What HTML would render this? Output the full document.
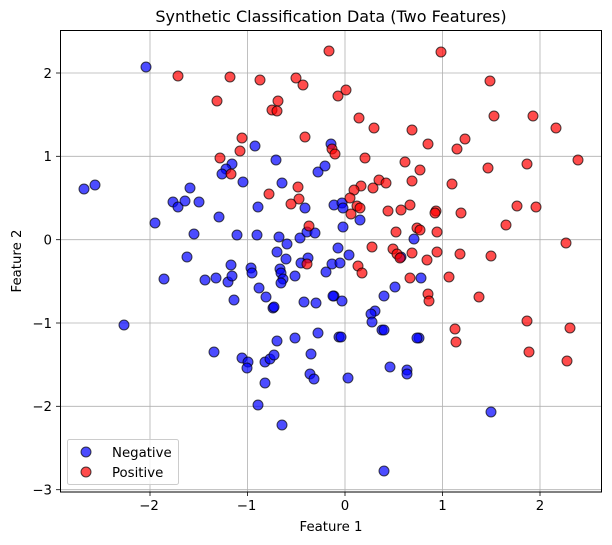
<!DOCTYPE html>
<html><head><meta charset="utf-8"><style>body{margin:0;background:#fff}svg{display:block;font-family:"DejaVu Sans","Liberation Sans",sans-serif}</style></head><body>
<svg width="612" height="545" xmlns="http://www.w3.org/2000/svg">
<rect width="612" height="545" fill="#fff"/>
<g stroke="#b0b0b0" stroke-width="0.8">
<line x1="150" y1="30" x2="150" y2="492"/><line x1="247.5" y1="30" x2="247.5" y2="492"/><line x1="345" y1="30" x2="345" y2="492"/><line x1="442.5" y1="30" x2="442.5" y2="492"/><line x1="540" y1="30" x2="540" y2="492"/>
<line x1="60" y1="73" x2="602" y2="73"/><line x1="60" y1="156.3" x2="602" y2="156.3"/><line x1="60" y1="239.7" x2="602" y2="239.7"/><line x1="60" y1="323" x2="602" y2="323"/><line x1="60" y1="406.3" x2="602" y2="406.3"/><line x1="60" y1="489.7" x2="602" y2="489.7"/>
</g>
<g id="b" fill="rgba(0,0,255,0.7)" stroke="rgba(0,0,0,0.7)" stroke-width="1">
<circle cx="146" cy="67" r="5"/><circle cx="84" cy="189" r="5"/><circle cx="95" cy="185" r="5"/><circle cx="155" cy="223" r="5"/><circle cx="173" cy="202" r="5"/><circle cx="178" cy="207" r="5"/><circle cx="185" cy="201" r="5"/><circle cx="199" cy="202" r="5"/><circle cx="190" cy="188" r="5"/><circle cx="219" cy="217" r="5"/><circle cx="194" cy="234" r="5"/><circle cx="237" cy="235" r="5"/><circle cx="257" cy="235" r="5"/><circle cx="255" cy="146" r="5"/><circle cx="276" cy="160" r="5"/><circle cx="282" cy="183" r="5"/><circle cx="243" cy="182" r="5"/><circle cx="232" cy="164" r="5"/><circle cx="226" cy="169" r="5"/><circle cx="222" cy="174" r="5"/><circle cx="258" cy="207" r="5"/><circle cx="305" cy="208" r="5"/><circle cx="334" cy="205" r="5"/><circle cx="318" cy="172" r="5"/><circle cx="325" cy="166" r="5"/><circle cx="331" cy="144" r="5"/><circle cx="279" cy="237" r="5"/><circle cx="287" cy="244" r="5"/><circle cx="277" cy="252" r="5"/><circle cx="300" cy="238" r="5"/><circle cx="307" cy="232" r="5"/><circle cx="315" cy="233" r="5"/><circle cx="338" cy="248" r="5"/><circle cx="308" cy="258" r="5"/><circle cx="342" cy="203" r="5"/><circle cx="343" cy="208" r="5"/><circle cx="343" cy="227" r="5"/><circle cx="360" cy="220" r="5"/><circle cx="414" cy="239" r="5"/><circle cx="349" cy="255" r="5"/>
<circle cx="187" cy="257" r="5"/><circle cx="164" cy="279" r="5"/><circle cx="205" cy="280" r="5"/><circle cx="216" cy="278" r="5"/><circle cx="228" cy="282" r="5"/><circle cx="232" cy="276" r="5"/><circle cx="231" cy="265" r="5"/><circle cx="234" cy="300" r="5"/><circle cx="251" cy="268" r="5"/><circle cx="252" cy="273" r="5"/><circle cx="259" cy="288" r="5"/><circle cx="266" cy="297" r="5"/><circle cx="273" cy="308" r="5"/><circle cx="274" cy="307" r="5"/><circle cx="286" cy="259" r="5"/><circle cx="280" cy="269" r="5"/><circle cx="281" cy="273" r="5"/><circle cx="283" cy="279" r="5"/><circle cx="281" cy="283" r="5"/><circle cx="295" cy="276" r="5"/><circle cx="301" cy="263" r="5"/><circle cx="304" cy="302" r="5"/><circle cx="316" cy="303" r="5"/><circle cx="326" cy="272" r="5"/><circle cx="332" cy="264" r="5"/><circle cx="340" cy="263" r="5"/><circle cx="334" cy="296" r="5"/><circle cx="333" cy="296" r="5"/><circle cx="124" cy="325" r="5"/><circle cx="214" cy="352" r="5"/><circle cx="242" cy="358" r="5"/><circle cx="248" cy="362" r="5"/><circle cx="247" cy="368" r="5"/><circle cx="265" cy="362" r="5"/><circle cx="270" cy="359" r="5"/><circle cx="274" cy="355" r="5"/><circle cx="277" cy="341" r="5"/><circle cx="295" cy="338" r="5"/><circle cx="318" cy="333" r="5"/><circle cx="311" cy="354" r="5"/><circle cx="310" cy="374" r="5"/><circle cx="314" cy="379" r="5"/><circle cx="265" cy="383" r="5"/><circle cx="258" cy="405" r="5"/><circle cx="282" cy="425" r="5"/><circle cx="339" cy="337" r="5"/>
<circle cx="342" cy="301" r="5"/><circle cx="384" cy="296" r="5"/><circle cx="395" cy="287" r="5"/><circle cx="375" cy="311" r="5"/><circle cx="371" cy="314" r="5"/><circle cx="372" cy="322" r="5"/><circle cx="382" cy="330" r="5"/><circle cx="384" cy="330" r="5"/><circle cx="341" cy="337" r="5"/><circle cx="419" cy="338" r="5"/><circle cx="417" cy="338" r="5"/><circle cx="421" cy="278" r="5"/><circle cx="401" cy="257" r="5"/><circle cx="390" cy="367" r="5"/><circle cx="407" cy="370" r="5"/><circle cx="407" cy="374" r="5"/><circle cx="348" cy="378" r="5"/><circle cx="491" cy="412" r="5"/><circle cx="384" cy="471" r="5"/>
</g>
<g fill="rgba(255,0,0,0.7)" stroke="rgba(0,0,0,0.7)" stroke-width="1">
<circle cx="329" cy="51" r="5"/><circle cx="178" cy="76" r="5"/><circle cx="230" cy="77" r="5"/><circle cx="260" cy="80" r="5"/><circle cx="296" cy="78" r="5"/><circle cx="303" cy="85" r="5"/><circle cx="338" cy="96" r="5"/><circle cx="217" cy="101" r="5"/><circle cx="278" cy="101" r="5"/><circle cx="272" cy="110" r="5"/><circle cx="277" cy="111" r="5"/><circle cx="242" cy="138" r="5"/><circle cx="240" cy="151" r="5"/><circle cx="305" cy="137" r="5"/><circle cx="332" cy="149" r="5"/><circle cx="335" cy="154" r="5"/><circle cx="220" cy="158" r="5"/><circle cx="231" cy="174" r="5"/><circle cx="298" cy="187" r="5"/><circle cx="269" cy="194" r="5"/><circle cx="299" cy="199" r="5"/><circle cx="291" cy="204" r="5"/><circle cx="309" cy="226" r="5"/><circle cx="307" cy="264" r="5"/>
<circle cx="441" cy="52" r="5"/><circle cx="490" cy="81" r="5"/><circle cx="346" cy="90" r="5"/><circle cx="359" cy="118" r="5"/><circle cx="374" cy="128" r="5"/><circle cx="412" cy="130" r="5"/><circle cx="428" cy="144" r="5"/><circle cx="465" cy="139" r="5"/><circle cx="457" cy="149" r="5"/><circle cx="494" cy="116" r="5"/><circle cx="533" cy="116" r="5"/><circle cx="556" cy="128" r="5"/><circle cx="365" cy="158" r="5"/><circle cx="405" cy="162" r="5"/><circle cx="420" cy="170" r="5"/><circle cx="488" cy="168" r="5"/><circle cx="527" cy="164" r="5"/><circle cx="578" cy="160" r="5"/><circle cx="379" cy="180" r="5"/><circle cx="386" cy="183" r="5"/><circle cx="412" cy="181" r="5"/><circle cx="452" cy="184" r="5"/><circle cx="361" cy="186" r="5"/><circle cx="373" cy="188" r="5"/><circle cx="354" cy="190" r="5"/><circle cx="350" cy="198" r="5"/><circle cx="357" cy="206" r="5"/><circle cx="360" cy="208" r="5"/><circle cx="351" cy="214" r="5"/><circle cx="388" cy="211" r="5"/><circle cx="401" cy="210" r="5"/><circle cx="410" cy="205" r="5"/><circle cx="436" cy="211" r="5"/><circle cx="435" cy="213" r="5"/><circle cx="461" cy="213" r="5"/><circle cx="517" cy="206" r="5"/><circle cx="536" cy="207" r="5"/><circle cx="506" cy="225" r="5"/><circle cx="396" cy="232" r="5"/><circle cx="417" cy="228" r="5"/><circle cx="420" cy="230" r="5"/><circle cx="437" cy="232" r="5"/>
<circle cx="372" cy="247" r="5"/><circle cx="393" cy="249" r="5"/><circle cx="397" cy="254" r="5"/><circle cx="400" cy="258" r="5"/><circle cx="412" cy="253" r="5"/><circle cx="437" cy="252" r="5"/><circle cx="427" cy="260" r="5"/><circle cx="460" cy="254" r="5"/><circle cx="491" cy="256" r="5"/><circle cx="566" cy="243" r="5"/><circle cx="358" cy="266" r="5"/><circle cx="362" cy="273" r="5"/><circle cx="410" cy="278" r="5"/><circle cx="449" cy="277" r="5"/><circle cx="428" cy="294" r="5"/><circle cx="429" cy="301" r="5"/><circle cx="479" cy="297" r="5"/><circle cx="527" cy="321" r="5"/><circle cx="570" cy="328" r="5"/><circle cx="455" cy="329" r="5"/><circle cx="456" cy="342" r="5"/><circle cx="529" cy="352" r="5"/><circle cx="567" cy="361" r="5"/>
</g>
<rect x="60.5" y="30.5" width="541" height="461.5" fill="none" stroke="#000" stroke-width="1"/>
<g stroke="#000" stroke-width="0.8">
<line x1="150" y1="492" x2="150" y2="496"/><line x1="247.5" y1="492" x2="247.5" y2="496"/><line x1="345" y1="492" x2="345" y2="496"/><line x1="442.5" y1="492" x2="442.5" y2="496"/><line x1="540" y1="492" x2="540" y2="496"/>
<line x1="56" y1="73" x2="60" y2="73"/><line x1="56" y1="156.3" x2="60" y2="156.3"/><line x1="56" y1="239.7" x2="60" y2="239.7"/><line x1="56" y1="323" x2="60" y2="323"/><line x1="56" y1="406.3" x2="60" y2="406.3"/><line x1="56" y1="489.7" x2="60" y2="489.7"/>
</g>
<g font-size="13.3" fill="#000" text-anchor="middle">
<text x="149" y="510">−2</text><text x="246.5" y="510">−1</text><text x="345" y="510">0</text><text x="442.5" y="510">1</text><text x="540" y="510">2</text>
</g>
<g font-size="13.3" fill="#000" text-anchor="end">
<text x="52" y="78">2</text><text x="52" y="161">1</text><text x="52" y="244.5">0</text><text x="52" y="328">−1</text><text x="52" y="411">−2</text><text x="52" y="494.5">−3</text>
</g>
<text x="331" y="531" font-size="13.3" text-anchor="middle">Feature 1</text>
<text x="21" y="261" font-size="13.3" text-anchor="middle" transform="rotate(-90 21 261)">Feature 2</text>
<text x="331" y="22" font-size="16" text-anchor="middle">Synthetic Classification Data (Two Features)</text>
<rect x="67.5" y="439.5" width="111" height="45" rx="2" fill="rgba(255,255,255,0.8)" stroke="#ccc" stroke-width="1"/>
<circle cx="86" cy="452" r="5" fill="rgba(0,0,255,0.7)" stroke="rgba(0,0,0,0.7)"/>
<circle cx="86" cy="472" r="5" fill="rgba(255,0,0,0.7)" stroke="rgba(0,0,0,0.7)"/>
<text x="112" y="457" font-size="13.3">Negative</text>
<text x="112" y="477" font-size="13.3">Positive</text>
</svg>
</body></html>
